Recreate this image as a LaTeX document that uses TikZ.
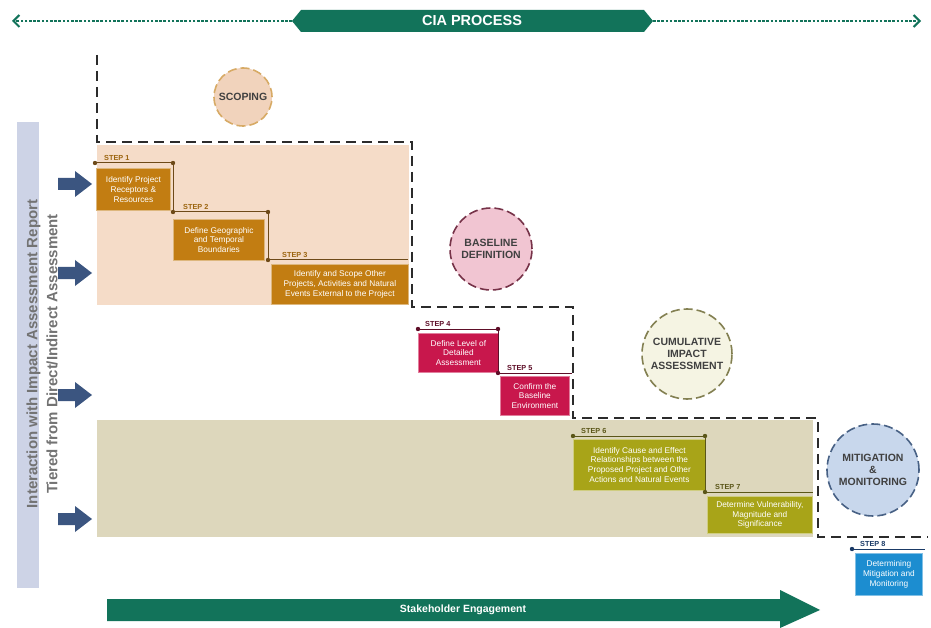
\documentclass[tikz,border=0pt]{standalone}
\usepackage{fontspec}
\setmainfont{Liberation Sans}
\usetikzlibrary{arrows.meta}

\definecolor{ciagreen}{HTML}{12735A}
\definecolor{scopefill}{HTML}{F5DCC8}
\definecolor{scopecircle}{HTML}{F1D3BC}
\definecolor{cumfill}{HTML}{DDD7BC}
\definecolor{orangestep}{HTML}{C27D12}
\definecolor{orangeline}{HTML}{6E4A18}
\definecolor{redstep}{HTML}{C8174C}
\definecolor{redline}{HTML}{5E0E28}
\definecolor{olivestep}{HTML}{A8A418}
\definecolor{oliveline}{HTML}{5A5618}
\definecolor{bluestep}{HTML}{1C8DD0}
\definecolor{blueline}{HTML}{1A3A66}
\definecolor{mitfill}{HTML}{C8D7EC}
\definecolor{sidebar}{HTML}{CDD3E6}
\definecolor{arrowblue}{HTML}{3B5580}
\definecolor{stair}{HTML}{2B2B2B}

\tikzset{
  stepbox/.style={fill=#1, draw=#1!55!white, line width=0.8pt, text=white,
    font=\fontsize{8.3}{9.8}\selectfont, align=center, inner sep=1pt, anchor=north west},
  steplabel/.style={font=\bfseries\fontsize{7.3}{8}\selectfont, text=#1, anchor=south west, inner sep=1pt},
  stepline/.style={draw=#1, line width=1pt},
  stepdot/.style={fill=#1},
  phase/.style={circle, fill=#1, line width=1.6pt, dash pattern=on 9pt off 4pt,
    font=\bfseries\fontsize{10.5}{12}\selectfont, text=black!75, align=center, inner sep=0pt},
  staircase/.style={draw=stair, line width=2.6pt, dash pattern=on 10pt off 6pt},
  banner/.style={fill=ciagreen},
}

\begin{document}
\begin{tikzpicture}[x=1pt,y=-1pt]
\path[use as bounding box, fill=white] (0,0) rectangle (931,628);

% ---- top banner: CIA process -------------------------------------------
\coordinate (topL) at (12,21);
\coordinate (topR) at (921,21);
\fill[banner] (292,21) -- (301,10) -- (644,10) -- (653,21) -- (644,32) -- (301,32) -- cycle;
\node[text=white, font=\bfseries\fontsize{14.5}{16}\selectfont, inner sep=0pt] (cia) at (472,21) {CIA PROCESS};
\coordinate (bannerL) at (292,21);
\coordinate (bannerR) at (653,21);
\draw[ciagreen, line width=2pt, dash pattern=on 2.6pt off 1.6pt, -{Straight Barb[length=6pt,width=12pt]}] (bannerL) -- (topL);
\draw[ciagreen, line width=2pt, dash pattern=on 2.6pt off 1.6pt, -{Straight Barb[length=6pt,width=12pt]}] (bannerR) -- (topR);

% ---- shaded phase areas -------------------------------------------------
\fill[scopefill] (97,145) rectangle (409,305);
\fill[cumfill] (97,420) rectangle (813,537);

% ---- dashed staircase boundary -----------------------------------------
\draw[staircase] (97,55) -- (97,142) -- (412,142) -- (412,307) -- (573,307)
  -- (573,418) -- (818,418) -- (818,537) -- (928,537);

% ---- side bar -----------------------------------------------------------
\fill[sidebar] (17,122) rectangle (39,588);
\node[rotate=90, align=center, text=black!55, font=\bfseries\fontsize{15}{20}\selectfont] (side) at (42,354)
  {Interaction with Impact Assessment Report\\Tiered from Direct/Indirect Assessment};

% ---- side arrows --------------------------------------------------------
\foreach \yy in {184,273,395,519}
  \fill[arrowblue] (58,\yy-6) -- (75,\yy-6) -- (75,\yy-13) -- (92,\yy) -- (75,\yy+13) -- (75,\yy+6) -- (58,\yy+6) -- cycle;

% ---- phase circles ------------------------------------------------------
\node[phase=scopecircle, draw=orangestep!65!white, minimum size=58pt] (scoping) at (243,97) {SCOPING};
\node[phase=redstep!25!white, draw=redline!85!white, minimum size=82pt] (baseline) at (491,249) {BASELINE\\DEFINITION};
\node[phase=olivestep!12!white, draw=oliveline!75!white, minimum size=90pt] (cumulative) at (687,354) {CUMULATIVE\\IMPACT\\ASSESSMENT};
\node[phase=mitfill, draw=blueline!80!white, minimum size=92pt] (mitigation) at (873,470) {MITIGATION\\\&\\MONITORING};

% ---- steps 1-3 ----------------------------------------------------------
\node[stepbox=orangestep, minimum width=74pt, minimum height=42pt] (s1) at (96,168)
  {Identify Project\\Receptors \&\\Resources};
\node[stepbox=orangestep, minimum width=91pt, minimum height=41pt] (s2) at (173,219)
  {Define Geographic\\and Temporal\\Boundaries};
\node[stepbox=orangestep, minimum width=137pt, minimum height=40pt] (s3) at (271,264)
  {Identify and Scope Other\\Projects, Activities and Natural\\Events External to the Project};
\coordinate (a1) at (95,163);
\coordinate (a2) at (173,163);
\coordinate (a3) at (173,212);
\coordinate (a4) at (268,212);
\coordinate (a5) at (268,260);
\coordinate (a6) at (408,260);
\draw[stepline=orangeline] (a1) -- (a2) -- (a3) -- (a4) -- (a5) -- (a6);
\foreach \c in {a1,a2,a3,a4,a5} \fill[stepdot=orangeline] (\c) circle (2.2pt);
\node[steplabel=orangestep!80!black] (l1) at (103,162) {STEP 1};
\node[steplabel=orangestep!80!black] (l2) at (182,211) {STEP 2};
\node[steplabel=orangestep!80!black] (l3) at (281,259) {STEP 3};

% ---- steps 4-5 ----------------------------------------------------------
\node[stepbox=redstep, minimum width=80pt, minimum height=39pt] (s4) at (418,333)
  {Define Level of\\Detailed\\Assessment};
\node[stepbox=redstep, minimum width=69pt, minimum height=39pt] (s5) at (500,376)
  {Confirm the\\Baseline\\Environment};
\coordinate (b1) at (418,329);
\coordinate (b2) at (498,329);
\coordinate (b3) at (498,373);
\coordinate (b4) at (572,373);
\draw[stepline=redline] (b1) -- (b2) -- (b3) -- (b4);
\foreach \c in {b1,b2,b3} \fill[stepdot=redline] (\c) circle (2.2pt);
\node[steplabel=redline] (l4) at (424,328) {STEP 4};
\node[steplabel=redline] (l5) at (506,372) {STEP 5};

% ---- steps 6-7 ----------------------------------------------------------
\node[stepbox=olivestep, minimum width=132pt, minimum height=51pt] (s6) at (573,439)
  {Identify Cause and Effect\\Relationships between the\\Proposed Project and Other\\Actions and Natural Events};
\node[stepbox=olivestep, minimum width=105pt, minimum height=37pt] (s7) at (707,496)
  {Determine Vulnerability,\\Magnitude and\\Significance};
\coordinate (c1) at (573,436);
\coordinate (c2) at (705,436);
\coordinate (c3) at (705,492);
\coordinate (c4) at (813,492);
\draw[stepline=oliveline] (c1) -- (c2) -- (c3) -- (c4);
\foreach \c in {c1,c2,c3} \fill[stepdot=oliveline] (\c) circle (2.2pt);
\node[steplabel=oliveline] (l6) at (580,435) {STEP 6};
\node[steplabel=oliveline] (l7) at (714,491) {STEP 7};

% ---- step 8 -------------------------------------------------------------
\node[stepbox=bluestep, minimum width=67pt, minimum height=42pt] (s8) at (855,553)
  {Determining\\Mitigation and\\Monitoring};
\coordinate (d1) at (852,549);
\coordinate (d2) at (925,549);
\draw[stepline=blueline] (d1) -- (d2);
\fill[stepdot=blueline] (d1) circle (2.2pt);
\node[steplabel=blueline] (l8) at (859,548) {STEP 8};

% ---- bottom arrow: stakeholder engagement ------------------------------
\fill[banner] (107,599) -- (780,599) -- (780,590) -- (820,610) -- (780,628) -- (780,621) -- (107,621) -- cycle;
\node[text=white, font=\bfseries\fontsize{10.5}{12}\selectfont, inner sep=0pt] (stake) at (463,610) {Stakeholder Engagement};
\end{tikzpicture}
\end{document}
